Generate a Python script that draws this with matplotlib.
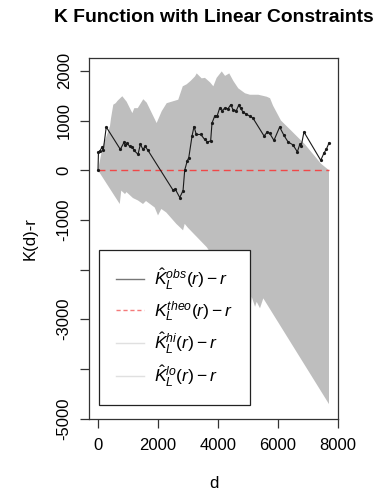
import numpy as np
import matplotlib
matplotlib.use("Agg")
import matplotlib.pyplot as plt
from matplotlib.lines import Line2D

plt.rcParams["font.family"] = ["Liberation Sans", "DejaVu Sans"]
plt.rcParams["mathtext.fontset"] = "custom"
plt.rcParams["mathtext.rm"] = "Liberation Sans"
plt.rcParams["mathtext.it"] = "Liberation Sans:italic"
plt.rcParams["mathtext.bf"] = "Liberation Sans:bold"

# Observed linear K function minus r
d_obs = [0, 15, 65, 130, 175, 275, 745, 865, 915, 975, 1055, 1145, 1200, 1335,
         1410, 1500, 1575, 1665, 2500, 2575, 2725, 2835, 2890, 2975, 3025, 3135,
         3200, 3275, 3425, 3555, 3645, 3755, 3800, 3890, 3975, 4055, 4135, 4225,
         4335, 4425, 4500, 4610, 4690, 4755, 4835, 4945, 5055, 5165, 5535, 5645,
         5725, 5865, 6055, 6200, 6335, 6500, 6645, 6725, 6775, 6865, 7425, 7535,
         7610, 7700]
k_obs = [0, 360, 390, 460, 400, 870, 420, 560, 500, 540, 480, 470, 400, 320,
         520, 420, 480, 400, -400, -380, -550, -410, 0, 190, 250, 690,
         880, 720, 720, 620, 570, 590, 950, 1090, 1100, 1250, 1200, 1250,
         1240, 1320, 1220, 1200, 1310, 1250, 1170, 1130, 1090, 1050, 690, 770,
         740, 600, 870, 700, 570, 510, 370, 520, 490, 770, 200, 350,
         420, 550]

# Theoretical value (zero line)
d_theo = [0, 7700]
k_theo = [0, 0]

# Upper envelope
d_hi = [0, 165, 265, 400, 435, 510, 590, 655, 810, 955, 1145, 1210, 1325, 1510,
        1625, 1955, 2125, 2290, 2510, 2675, 2825, 2955, 3090, 3235, 3290, 3455,
        3565, 3735, 3845, 3955, 4125, 4235, 4375, 4510, 4675, 4900, 5065, 5345,
        5625, 5735, 5835, 6100, 6435, 6900, 7435, 7700]
k_hi = [0, 500, 650, 890, 1050, 1320, 1350, 1400, 1490, 1380, 1150, 1250, 1250, 1430,
        1360, 950, 1190, 1350, 1390, 1420, 1690, 1730, 1800, 1890, 1950, 1850,
        1860, 1770, 1690, 1860, 1990, 1900, 1950, 1800, 1650, 1550, 1520, 1520,
        1480, 1450, 1300, 1000, 800, 520, 130, 0]

# Lower envelope
d_lo = [0, 725, 775, 900, 950, 1165, 1335, 1500, 1600, 1890, 2000, 2110, 2275,
        2610, 2835, 2890, 3000, 3625, 4925, 5065, 5125, 5235, 5290, 5400, 5510, 7700]
k_lo = [0, -680, -410, -480, -440, -560, -610, -680, -620, -750, -910, -780, -850,
        -1080, -1210, -1080, -1160, -1550, -2710, -2910, -2550, -2750, -2650, -2780, -2580, -4710]

x_ticks = [0, 2000, 4000, 6000, 8000]
y_ticks = [-5000, -4000, -3000, -2000, -1000, 0, 1000, 2000]
y_tick_labels = ["-5000", "", "-3000", "", "-1000", "0", "1000", "2000"]

W, H = 378, 495
fig = plt.figure(figsize=(W / 100, H / 100), dpi=100)
ax = fig.add_axes([89 / W, 1 - 419 / H, (338 - 89) / W, (419 - 58) / H])

band_x = np.r_[d_hi, d_lo[::-1]]
band_y = np.r_[k_hi, k_lo[::-1]]
ax.fill(band_x, band_y, color="#bebebe", lw=0, zorder=1)

ax.plot(d_theo, k_theo, color="#f04848", lw=1.0, ls=(0, (5, 3.2)), zorder=2)
ax.plot(d_obs, k_obs, color="#1a1a1a", lw=0.8, marker="o", ms=1.3, zorder=3)

ax.set_xlim(-300, 8000)
ax.set_ylim(-5010, 2260)
ax.set_xticks(x_ticks)
ax.set_xticklabels([str(v) for v in x_ticks])
ax.set_yticks(y_ticks)
ax.set_yticklabels(y_tick_labels, rotation=90, va="center")
ax.tick_params(axis="both", length=6.5, width=0.9, labelsize=12, color="#333333")
ax.tick_params(axis="x", pad=7)
ax.tick_params(axis="y", pad=6)
for s in ax.spines.values():
    s.set_linewidth(0.9)
    s.set_color("#333333")

ax.set_xlabel("d", fontsize=12, labelpad=17)
ax.set_ylabel("K(d)-r", fontsize=12, labelpad=14)
fig.text(213.5 / W, 1 - 18 / H, "K Function with Linear Constraints",
         fontsize=13.9, fontweight="bold", ha="center", va="center")

handles = [
    Line2D([], [], color="#777777", lw=1.0),
    Line2D([], [], color="#f47a7a", lw=1.0, ls=(0, (3, 2))),
    Line2D([], [], color="#e0e0e0", lw=1.0),
    Line2D([], [], color="#e0e0e0", lw=1.0),
]
labels = [
    r"$\hat{K}_L^{obs}(r)-r$",
    r"$K_L^{theo}(r)-r$",
    r"$\hat{K}_L^{hi}(r)-r$",
    r"$\hat{K}_L^{lo}(r)-r$",
]
leg = ax.legend(handles, labels, loc="upper left",
                bbox_to_anchor=(99 / W, 1 - 250 / H), bbox_transform=fig.transFigure,
                fontsize=12.6, frameon=True, fancybox=False, framealpha=1,
                edgecolor="#222222", borderpad=0.95, labelspacing=0.42,
                handlelength=1.6, handletextpad=0.6, borderaxespad=0)
leg.get_frame().set_linewidth(0.9)
leg.set_zorder(5)

fig.savefig("out.png", dpi=100)
